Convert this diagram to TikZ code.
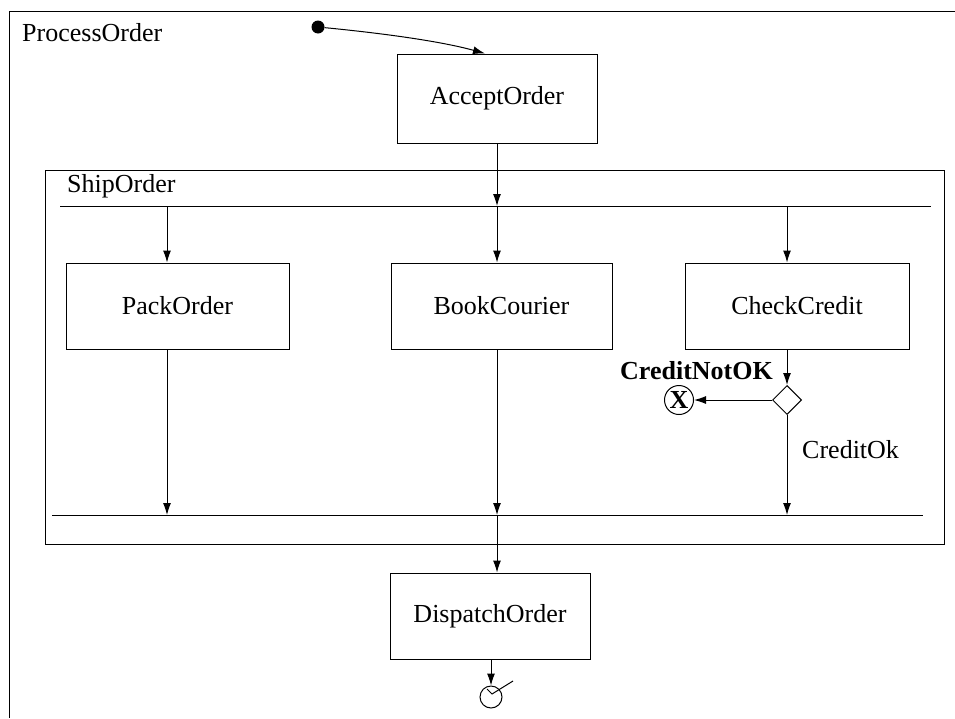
\documentclass[tikz,border=0pt]{standalone}
\usepackage{fontspec}
\setmainfont{Liberation Serif}
\usetikzlibrary{arrows.meta,shapes.geometric}
\begin{document}
\begin{tikzpicture}[x=1pt,y=-1pt,
  every node/.style={font=\fontsize{26}{31}\selectfont},
  ln/.style={line width=1pt},
  actbox/.style={draw, line width=1pt, inner sep=0pt, minimum height=86pt},
  arr/.style={line width=1pt, -{Latex[length=12pt,width=8pt]}},
  lbl/.style={inner sep=0pt}]
\useasboundingbox (0,0) rectangle (955,718);
% outer frame
\coordinate (frTR) at (955,11);
\coordinate (frTL) at (9,11);
\coordinate (frBL) at (9,718);
\draw[ln] (frTR) -- (frTL) -- (frBL);
\node[lbl, anchor=base west] (procLbl) at (22,41) {ProcessOrder};
% ShipOrder frame
\node[draw, line width=1pt, inner sep=0pt, minimum width=899pt, minimum height=374pt] (ship) at (494.5,357) {};
\node[lbl, anchor=base west] (shipLbl) at (67,192) {ShipOrder};
% bars
\coordinate (forkL) at (60,206);
\coordinate (forkR) at (931,206);
\coordinate (joinL) at (52,515);
\coordinate (joinR) at (923,515);
\draw[ln] (forkL) -- (forkR);
\draw[ln] (joinL) -- (joinR);
% columns
\coordinate (c1) at (167,0);
\coordinate (c2) at (497,0);
\coordinate (c3) at (787,0);
% nodes
\node[circle, fill=black, inner sep=0pt, minimum size=13pt] (init) at (318,27) {};
\node[actbox, minimum width=200pt, minimum height=89pt] (acc) at (497,98.5) {AcceptOrder};
\node[actbox, minimum width=223pt] (pack) at (177.5,306) {PackOrder};
\node[actbox, minimum width=221pt] (book) at (501.5,306) {BookCourier};
\node[actbox, minimum width=224pt] (check) at (797,306) {CheckCredit};
\node[diamond, draw, line width=1pt, inner sep=0pt, minimum width=29pt, minimum height=29pt] (dec) at (787,400) {};
\node[circle, draw, line width=1pt, inner sep=0pt, minimum size=29pt, font=\fontsize{26}{31}\selectfont\bfseries] (xend) at (679,400) {X};
\node[lbl, anchor=base east, font=\fontsize{26}{31}\selectfont\bfseries] (notok) at (773,379) {CreditNotOK};
\node[lbl, anchor=base west] (ok) at (802,458) {CreditOk};
\node[actbox, minimum width=200pt] (disp) at (490,616) {DispatchOrder};
\node[circle, draw, line width=1pt, inner sep=0pt, minimum size=22pt] (fin) at (491,697) {};
% connectors
\draw[arr] (init) .. controls (380,33) and (440,41) .. ([xshift=-12pt]acc.north);
\draw[arr] (acc.south) -- (acc.south |- forkL);
\draw[arr] (forkL -| c1) -- (pack.north -| c1);
\draw[arr] (forkL -| c2) -- (book.north -| c2);
\draw[arr] (forkL -| c3) -- (check.north -| c3);
\draw[arr] (pack.south -| c1) -- (joinL -| c1);
\draw[arr] (book.south -| c2) -- (joinL -| c2);
\draw[arr] (check.south -| c3) -- (dec.north);
\draw[arr] (dec.west) -- (xend.east);
\draw[arr] (dec.south) -- (joinL -| c3);
\draw[arr] (joinL -| c2) -- (disp.north -| c2);
\draw[arr] (disp.south -| fin) -- (fin.north);
\draw[ln] ([shift={(-4,-8)}]fin.center) -- ([shift={(1,-3)}]fin.center) -- ([shift={(22,-16)}]fin.center);
\end{tikzpicture}
\end{document}
